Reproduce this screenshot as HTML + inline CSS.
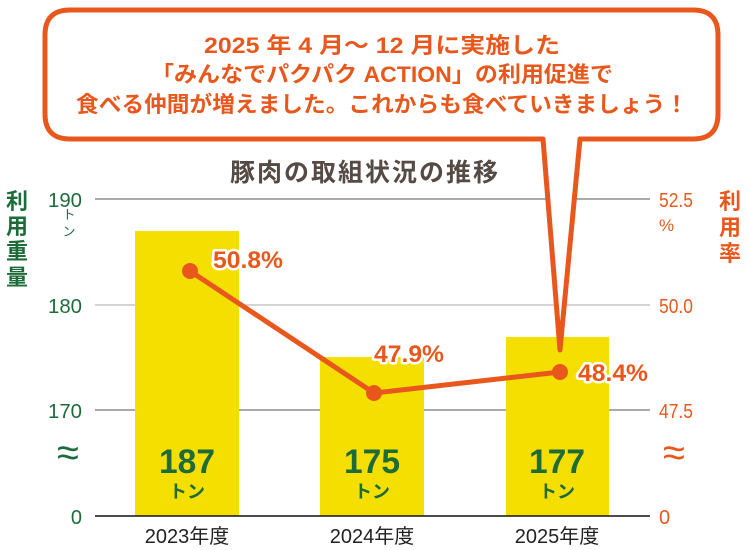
<!DOCTYPE html>
<html><head><meta charset="utf-8"><style>
html,body{margin:0;padding:0;background:#fff;}
svg{display:block;font-family:"Liberation Sans","Noto Sans CJK JP",sans-serif;}
</style></head><body>
<svg width="750" height="550" viewBox="0 0 750 550" xmlns="http://www.w3.org/2000/svg">
<line x1="95" y1="199" x2="650" y2="199" stroke="#777" stroke-width="1.3"/>
<line x1="95" y1="305" x2="650" y2="305" stroke="#bbb" stroke-width="1.3"/>
<line x1="95" y1="410" x2="650" y2="410" stroke="#777" stroke-width="1.3"/>
<rect x="135" y="231" width="104" height="285" fill="#f5df00"/>
<rect x="320" y="357" width="104" height="159" fill="#f5df00"/>
<rect x="506" y="337" width="103" height="179" fill="#f5df00"/>
<line x1="95" y1="516" x2="650" y2="516" stroke="#111" stroke-width="1.5"/>
<g fill="#1e6b3a" font-size="20" text-anchor="end">
<text x="82" y="207" textLength="34" lengthAdjust="spacingAndGlyphs">190</text><text x="82" y="313" textLength="34" lengthAdjust="spacingAndGlyphs">180</text><text x="82" y="418" textLength="34" lengthAdjust="spacingAndGlyphs">170</text><text x="82" y="524">0</text>
</g>
<text x="69" y="219" fill="#1e6b3a" font-size="13" text-anchor="middle">ト</text>
<text x="69" y="236" fill="#1e6b3a" font-size="13" text-anchor="middle">ン</text>
<text x="68" y="466" fill="#1e6b3a" font-size="40" text-anchor="middle">≈</text>
<g fill="#1e6b3a" font-size="22" font-weight="bold" text-anchor="middle">
<text x="17" y="209">利</text><text x="17" y="234">用</text><text x="17" y="259">重</text><text x="17" y="285">量</text>
</g>
<g fill="#e8581c" font-size="20">
<text x="659" y="207" textLength="34" lengthAdjust="spacingAndGlyphs">52.5</text><text x="659" y="313" textLength="34" lengthAdjust="spacingAndGlyphs">50.0</text><text x="659" y="418" textLength="34" lengthAdjust="spacingAndGlyphs">47.5</text><text x="659" y="524">0</text>
</g>
<text x="659" y="231" fill="#e8581c" font-size="17">%</text>
<text x="674" y="466" fill="#e8581c" font-size="40" text-anchor="middle">≈</text>
<g fill="#e8581c" font-size="22" font-weight="bold" text-anchor="middle">
<text x="730" y="209">利</text><text x="730" y="235">用</text><text x="730" y="261">率</text>
</g>
<g fill="#222" font-size="20" text-anchor="middle">
<text x="187" y="543">2023年度</text><text x="372" y="543">2024年度</text><text x="557" y="543">2025年度</text>
</g>
<g fill="#1e6b3a" font-weight="bold" text-anchor="middle">
<text x="187" y="473" font-size="34" textLength="56" lengthAdjust="spacingAndGlyphs">187</text><text x="187" y="498" font-size="18">トン</text>
<text x="372" y="473" font-size="34" textLength="56" lengthAdjust="spacingAndGlyphs">175</text><text x="372" y="498" font-size="18">トン</text>
<text x="557" y="473" font-size="34" textLength="56" lengthAdjust="spacingAndGlyphs">177</text><text x="557" y="498" font-size="18">トン</text>
</g>
<path d="M70 10 H693 Q718 10 718 35 V114 Q718 139 693 139 H580 L560 350 L543 139 H70 Q45 139 45 114 V35 Q45 10 70 10 Z" fill="#fff" stroke="#e8581c" stroke-width="5" stroke-linejoin="round"/>
<g fill="#e8581c" font-size="22" font-weight="bold" text-anchor="middle">
<text x="382" y="53" textLength="356" lengthAdjust="spacingAndGlyphs">2025 年 4 月～ 12 月に実施した</text>
<text x="382" y="82" textLength="462" lengthAdjust="spacingAndGlyphs">「みんなでパクパク ACTION」の利用促進で</text>
<text x="382" y="112" textLength="612" lengthAdjust="spacingAndGlyphs">食べる仲間が増えました。これからも食べていきましょう！</text>
</g>
<text x="365" y="181" fill="#554a44" font-size="25" font-weight="bold" text-anchor="middle" letter-spacing="2">豚肉の取組状況の推移</text>
<polyline points="190,271 374,393 560,372" fill="none" stroke="#e8581c" stroke-width="5"/>
<circle cx="190" cy="271" r="8" fill="#e8581c"/>
<circle cx="374" cy="393" r="8" fill="#e8581c"/>
<circle cx="560" cy="372" r="8" fill="#e8581c"/>
<g fill="#e8581c" font-size="24" font-weight="bold" stroke="#fff" stroke-width="5" paint-order="stroke" stroke-linejoin="round">
<text x="213" y="268" textLength="70" lengthAdjust="spacingAndGlyphs">50.8%</text>
<text x="374" y="362" textLength="70" lengthAdjust="spacingAndGlyphs">47.9%</text>
<text x="578" y="381" textLength="70" lengthAdjust="spacingAndGlyphs">48.4%</text>
</g>
</svg>
</body></html>
